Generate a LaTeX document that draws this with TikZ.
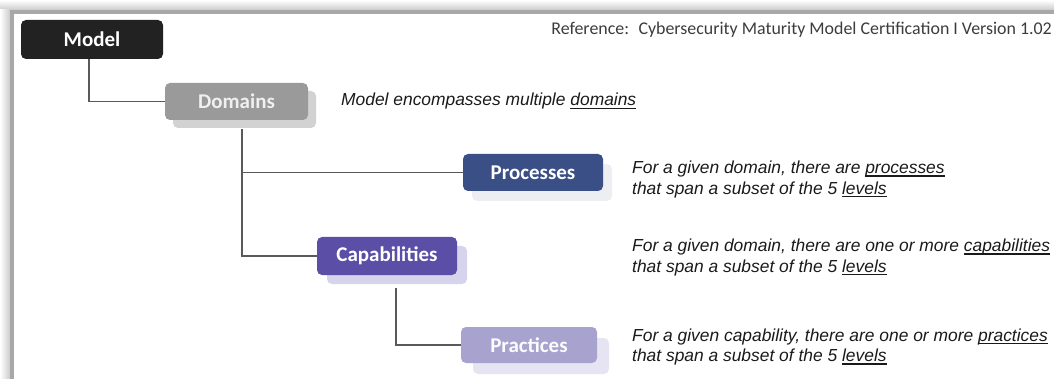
\documentclass[tikz,border=0pt]{standalone}
\usepackage{fontspec}
\setmainfont{Liberation Sans}
\newfontfamily\calibri{Carlito}
\newcommand{\myul}[1]{\setbox0\hbox{#1}\rlap{\rule[-2.8pt]{\wd0}{1.1pt}}\box0}
\usetikzlibrary{shadows,backgrounds}
\definecolor{cmodel}{HTML}{222222}
\definecolor{cdom}{HTML}{9A9A9A}
\definecolor{cdomsh}{HTML}{D2D2D2}
\definecolor{cproc}{HTML}{3A4F86}
\definecolor{cprocsh}{HTML}{EDEEF2}
\definecolor{ccap}{HTML}{5A4EA6}
\definecolor{ccapsh}{HTML}{D6D3EC}
\definecolor{cprac}{HTML}{A8A2CF}
\definecolor{cpracsh}{HTML}{E6E4F3}
\definecolor{cline}{HTML}{5A5A5A}
\definecolor{ctext}{HTML}{1A1A1A}
\definecolor{cframe}{HTML}{A8A8A8}
\tikzset{
  boxnode/.style={rounded corners=5pt, inner sep=0pt, text=white,
    font=\calibri\bfseries\fontsize{21}{22}\selectfont},
  conn/.style={draw=cline, line width=1.3pt},
  desc/.style={inner sep=0pt, align=left, text=ctext,
    font=\fontsize{17.4}{20.5}\selectfont\itshape},
}
\begin{document}
\begin{tikzpicture}[x=1pt,y=-1pt]
\useasboundingbox (0,0) rectangle (1054,379);
% frame
\shade[top color=white, bottom color=gray!40] (0,0) rectangle (1054,10);
\shade[left color=white, right color=gray!40] (0,10) rectangle (10,379);
\fill[cframe] (10,10) rectangle (1054,14);
\fill[cframe] (10,10) rectangle (14,379);

% boxes
\node[boxnode, fill=cmodel, minimum width=142pt, minimum height=39pt] (model) at (92,39.5) {Model};
\node[boxnode, fill=cdom, text=white!94!black, minimum width=143pt, minimum height=37pt,
  general shadow={fill=cdomsh, shadow xshift=8pt, shadow yshift=-8pt}] (domains) at (236.5,101.5) {Domains};
\node[boxnode, fill=cproc, minimum width=140pt, minimum height=37pt,
  general shadow={fill=cprocsh, shadow xshift=9pt, shadow yshift=-10pt}] (proc) at (533,172.5) {Processes};
\node[boxnode, fill=ccap, minimum width=140pt, minimum height=38pt,
  general shadow={fill=ccapsh, shadow xshift=10pt, shadow yshift=-9pt}] (caps) at (387,256) {Capabilities};
\node[boxnode, fill=cprac, text=white!96!cprac, minimum width=136pt, minimum height=36pt,
  general shadow={fill=cpracsh, shadow xshift=12pt, shadow yshift=-11pt}] (prac) at (529,345) {Practices};

% connectors
\begin{pgfonlayer}{background}
\draw[conn] ([xshift=-3pt]model.south) |- (domains.west);
\draw[conn] ([xshift=5.5pt,yshift=-9pt]domains.south) |- (caps.west);
\draw[conn] ([xshift=5.5pt,yshift=-9pt]domains.south) |- (proc.west);
\draw[conn] ([xshift=9pt,yshift=-13pt]caps.south) |- (prac.west);
\end{pgfonlayer}

% texts
\node[inner sep=0pt, anchor=east, text=ctext!85, font=\calibri\fontsize{17.9}{20}\selectfont] (ref) at (1052,30)
  {Reference:~ Cybersecurity Maturity Model Certification I Version 1.02};
\node[desc, anchor=west] (tdom) at (341,101.5) {Model encompasses multiple \myul{domains}};
\node[desc, anchor=west] (tproc) at (632,179.5) {For a given domain, there are \myul{processes}\\that span a subset of the 5 \myul{levels}};
\node[desc, anchor=west] (tcap) at (632,257.5) {For a given domain, there are one or more \myul{capabilities}\\that span a subset of the 5 \myul{levels}};
\node[desc, anchor=west] (tprac) at (632,347) {For a given capability, there are one or more \myul{practices}\\that span a subset of the 5 \myul{levels}};
\end{tikzpicture}
\end{document}
